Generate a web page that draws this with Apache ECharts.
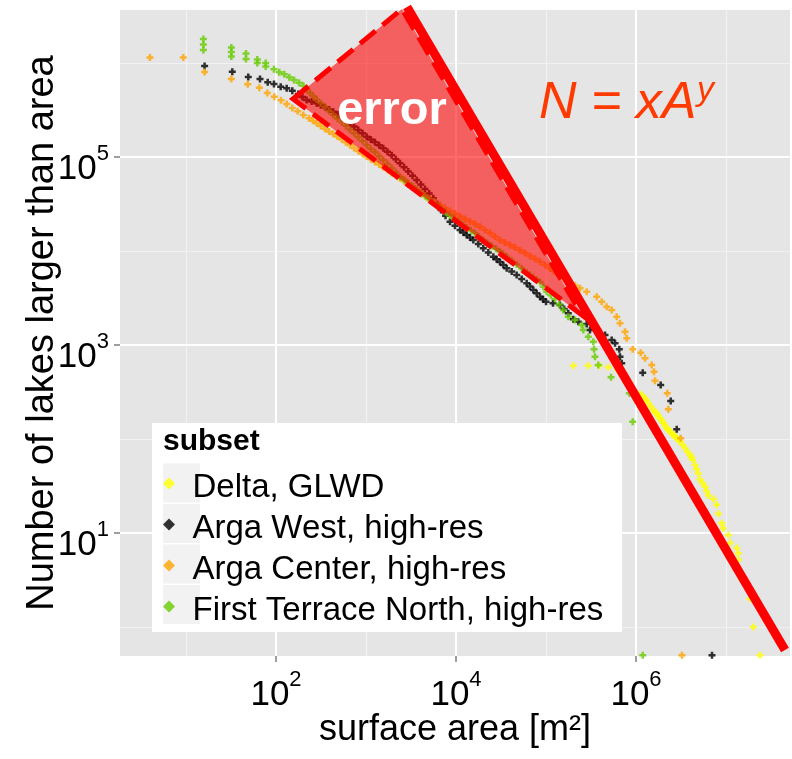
<!DOCTYPE html>
<html>
<head>
<meta charset="utf-8">
<script src="https://cdn.jsdelivr.net/npm/echarts@6/dist/echarts.min.js"></script>
<style>html,body{margin:0;padding:0;background:#fff}#c{width:792px;height:759px}</style>
</head>
<body>
<div id="c"></div>
<script>
// ---- data ----
const seriesNames = ['Delta, GLWD', 'Arga West, high-res', 'Arga Center, high-res', 'First Terrace North, high-res'];
const seriesColors = ['#FFFF00', '#000000', '#FFA500', '#66CC00'];

const deltaArea = [2.01e5, 2.95e5, 3.91e5, 4.92e5, 6.20e5, 1.108e6, 1.181e6, 1.259e6, 1.313e6, 1.37e6, 1.461e6, 1.557e6, 1.627e6, 1.70e6, 1.773e6, 1.848e6, 1.927e6, 2.01e6, 2.098e6, 2.19e6, 2.286e6, 2.387e6, 2.49e6, 2.597e6, 2.712e6, 2.833e6, 2.954e6, 3.08e6, 3.283e6, 3.50e6, 3.735e6, 3.98e6, 4.11e6, 4.245e6, 4.525e6, 4.718e6, 4.92e6, 5.14e6, 5.48e6, 5.85e6, 6.10e6, 6.36e6, 7.23e6, 7.88e6, 8.21e6, 8.96e6, 9.33e6, 1.061e7, 1.108e7, 1.315e7, 1.37e7, 1.37e7, 1.494e7, 1.848e7, 2.01e7, 2.387e7];
const deltaCount = [602, 602, 602, 579, 542, 301, 287, 273, 256, 240, 221, 203, 194, 185, 175, 166, 157, 148, 139, 130, 125, 120, 115, 110, 106, 102, 98, 94, 87, 80, 73, 68, 64, 60, 53, 47.7, 43, 37, 34, 31, 27.8, 25, 23, 20, 16, 12.7, 11.2, 9.5, 7.8, 6.9, 6.1, 5.2, 3.2, 2.0, 1.0, 0.5];

const argaWestArea = [16.1, 32.7, 49.2, 66.4, 80.9, 95.0, 112.8, 131.5, 151.7, 177, 196.9, 219, 249, 283, 314.7, 350, 389.3, 433, 482.2, 537, 597.1, 664, 738.3, 821, 914.2, 1018, 1132, 1259, 1400, 1557, 1733, 1930, 2146, 2387, 2654, 2951, 3286, 3659, 4069, 4525, 5032, 5596, 6175, 6813, 7644, 8577, 9749, 1.108e4, 1.207e4, 1.315e4, 1.431e4, 1.557e4, 1.769e4, 2.01e4, 2.285e4, 2.597e4, 2.828e4, 3.08e4, 3.358e4, 3.66e4, 4.156e4, 4.72e4, 5.366e4, 6.10e4, 6.641e4, 7.23e4, 7.876e4, 8.58e4, 9.263e4, 1.0e5, 1.196e5, 1.43e5, 1.591e5, 1.769e5, 2.01e5, 2.285e5, 2.833e5, 3.08e5, 3.78e5, 4.525e5, 5.37e5, 5.85e5, 6.52e5, 6.64e5, 6.94e5, 1.187e6, 1.881e6, 2.43e6, 2.833e6, 6.99e6];
const argaWestCount = [9.29e5, 8.08e5, 7.10e5, 6.76e5, 6.23e5, 5.98e5, 5.60e5, 5.38e5, 5.07e5, 4.68e5, 4.348e5, 4.04e5, 3.882e5, 3.73e5, 3.551e5, 3.38e5, 3.20e5, 3.03e5, 2.828e5, 2.64e5, 2.453e5, 2.28e5, 2.103e5, 1.94e5, 1.784e5, 1.64e5, 1.531e5, 1.43e5, 1.332e5, 1.24e5, 1.136e5, 1.04e5, 9.441e4, 8.57e4, 7.751e4, 7.01e4, 6.316e4, 5.69e4, 5.099e4, 4.57e4, 4.079e4, 3.64e4, 3.152e4, 2.73e4, 2.366e4, 2.05e4, 1.85e4, 1.67e4, 1.572e4, 1.48e4, 1.392e4, 1.31e4, 1.184e4, 1.07e4, 9648, 8700, 8152, 7638, 7071, 6546, 6031, 5556, 5018, 4533, 4176, 3847, 3544, 3265, 3071, 2888, 2774, 2665, 2407, 2174, 1877, 1770, 1673, 1444, 1358, 1278, 1130, 1042, 900, 751, 639, 507, 375, 254, 127, 0.5];

const argaCenterArea = [3.98, 9.33, 16.1, 31.9, 48.5, 65.2, 80.1, 95.7, 113.6, 131.5, 151.7, 174.2, 201, 232.6, 256.7, 283.3, 314.9, 350, 389.3, 433, 482.2, 537, 597.1, 664, 738.3, 821, 914.2, 1018, 1132, 1259, 1400, 1557, 1733, 1930, 2146, 2387, 2654, 2951, 3286, 3659, 4228, 4886, 5696, 6640, 7547, 8577, 9749, 1.108e4, 1.259e4, 1.43e4, 1.626e4, 1.848e4, 2.10e4, 2.387e4, 2.711e4, 3.08e4, 3.501e4, 3.98e4, 4.523e4, 5.14e4, 5.842e4, 6.64e4, 7.548e4, 8.58e4, 9.75e4, 1.108e5, 1.212e5, 1.325e5, 1.436e5, 1.557e5, 1.696e5, 1.848e5, 2.10e5, 2.387e5, 2.833e5, 3.66e5, 4.16e5, 4.72e5, 5.37e5, 6.10e5, 6.64e5, 7.55e5, 7.88e5, 9.19e5, 1.128e6, 1.259e6, 1.494e6, 1.585e6, 1.626e6, 2.227e6, 2.285e6, 3.14e6, 3.24e6];
const argaCenterCount = [1.14e6, 1.14e6, 8.02e5, 6.76e5, 5.93e5, 5.46e5, 4.80e5, 4.38e5, 4.01e5, 3.66e5, 3.32e5, 3.06e5, 2.80e5, 2.58e5, 2.425e5, 2.28e5, 2.13e5, 1.99e5, 1.871e5, 1.76e5, 1.646e5, 1.54e5, 1.437e5, 1.34e5, 1.247e5, 1.16e5, 1.082e5, 1.01e5, 9.454e4, 8.85e4, 8.292e4, 7.77e4, 7.247e4, 6.76e4, 6.331e4, 5.93e4, 5.532e4, 5.16e4, 4.797e4, 4.46e4, 4.04e4, 3.66e4, 3.363e4, 3.09e4, 2.867e4, 2.66e4, 2.484e4, 2.32e4, 2.186e4, 2.06e4, 1.931e4, 1.81e4, 1.675e4, 1.55e4, 1.425e4, 1.31e4, 1.233e4, 1.16e4, 1.088e4, 1.02e4, 9501, 8850, 8252, 7695, 7097, 6546, 6142, 5763, 5434, 5124, 4837, 4566, 4280, 4012, 3690, 3265, 2888, 2555, 2357, 2000, 1702, 1385, 1178, 900, 828, 722, 613, 520, 417, 306, 207, 102, 0.5];

const terraceArea = [15.6, 15.6, 15.6, 31.9, 31.9, 31.9, 46.4, 46.4, 62.0, 62.0, 76.8, 76.8, 95.0, 108.8, 123.7, 140.6, 158.5, 180.1, 201, 219, 238.6, 260, 283.3, 314.9, 350, 389.3, 433, 482.2, 537, 597.1, 664, 738.3, 821, 914.2, 1018, 1132, 1259, 1400, 1557, 1733, 1930, 2146, 2387, 2654, 2951, 3286, 3659, 4069, 4525, 5032, 5596, 6231, 6937, 7714, 8577, 9539, 1.061e4, 1.181e4, 1.315e4, 1.462e4, 1.626e4, 1.808e4, 2.01e4, 2.239e4, 2.493e4, 2.771e4, 3.08e4, 3.358e4, 3.66e4, 4.156e4, 4.72e4, 5.366e4, 6.10e4, 6.641e4, 7.23e4, 7.876e4, 8.58e4, 9.346e4, 1.018e5, 1.132e5, 1.259e5, 1.40e5, 1.557e5, 1.769e5, 2.10e5, 2.493e5, 2.597e5, 2.95e5, 3.354e5, 3.415e5, 3.50e5, 3.81e5, 5.28e5, 8.43e5, 9.19e5, 1.187e6];
const terraceCount = [1.80e6, 1.57e6, 1.375e6, 1.46e6, 1.31e6, 1.17e6, 1.26e6, 1.10e6, 1.09e6, 1.0e6, 1.0e6, 9.18e5, 8.57e5, 7.96e5, 7.58e5, 7.05e5, 6.59e5, 6.17e5, 5.73e5, 5.244e5, 4.80e5, 4.431e5, 4.09e5, 3.729e5, 3.40e5, 3.085e5, 2.80e5, 2.571e5, 2.36e5, 2.151e5, 1.96e5, 1.787e5, 1.63e5, 1.478e5, 1.34e5, 1.225e5, 1.12e5, 1.02e5, 9.29e4, 8.425e4, 7.64e4, 6.866e4, 6.17e4, 5.713e4, 5.29e4, 4.884e4, 4.51e4, 4.167e4, 3.85e4, 3.554e4, 3.28e4, 3.031e4, 2.80e4, 2.587e4, 2.39e4, 2.219e4, 2.06e4, 1.914e4, 1.778e4, 1.655e4, 1.54e4, 1.42e4, 1.31e4, 1.217e4, 1.13e4, 1.0565e4, 9878, 9270, 8700, 7906, 7185, 6514, 5906, 5555, 5225, 4945, 4680, 4156, 3690, 3375, 3086, 2697, 2357, 2000, 1845, 1632, 1444, 1226, 1084, 900, 751, 613, 453, 306, 152, 0.5];

// power-law fit line and "error" wedge (annotation, data coordinates)
const fitArea = [2856, 4.52e7];
const fitCount = [3.94e6, 0.569];
const errorArea = [154.5, 2512, 2.51e5];
const errorCount = [4.14e5, 3.75e6, 2085];

// axes
const xRange = [1.848, 5.14e7];
const yRange = [0.491, 3.66e6];
const xTickValues = [100, 1e4, 1e6];
const yTickValues = [10, 1e3, 1e5];

// ---- chart ----
const FONT = '"Liberation Sans", Arial, sans-serif';
const PLUS = 'path://M2.25,0h2.5v2.25h2.25v2.5h-2.25v2.25h-2.5v-2.25h-2.25v-2.5h2.25z';
const DIAMOND = 'path://M5,0L10,5L5,10L0,5Z';
function pairs(a, b) { return a.map((v, i) => [v, b[i]]); }
function supLabel(v) { const e = Math.round(Math.log10(v)); return '{b|10}{s|' + e + '}'; }
const richTick = {
  b: { fontSize: 35, fontFamily: FONT, color: '#000', lineHeight: 44, verticalAlign: 'bottom' },
  s: { fontSize: 22, fontFamily: FONT, color: '#000', lineHeight: 16, verticalAlign: 'top' }
};

const seriesData = [
  pairs(deltaArea, deltaCount),
  pairs(argaWestArea, argaWestCount),
  pairs(argaCenterArea, argaCenterCount),
  pairs(terraceArea, terraceCount)
];

const scatterSeries = seriesNames.map((name, i) => ({
  type: 'scatter', name: name, xAxisIndex: 0, yAxisIndex: 0,
  data: seriesData[i], symbol: PLUS, symbolSize: 7,
  itemStyle: { color: seriesColors[i] }, z: 2 + i * 0.01, silent: true
}));

// major grid lines on first series
scatterSeries[0].markLine = {
  silent: true, z: 1, symbol: ['none', 'none'], label: { show: false },
  lineStyle: { color: '#FFFFFF', width: 2, type: 'solid' },
  emphasis: { disabled: true },
  data: xTickValues.map(v => ({ xAxis: v })).concat(yTickValues.map(v => ({ yAxis: v })))
};

const chart = echarts.init(document.getElementById('c'), null, { renderer: 'canvas' });
chart.setOption({
  animation: false,
  grid: { left: 120, right: 2, top: 10, bottom: 103, show: true, backgroundColor: '#E5E5E5', borderWidth: 0 },
  xAxis: [{
    type: 'log', logBase: 10, min: xRange[0], max: xRange[1],
    axisLine: { show: false },
    axisTick: { show: true, customValues: xTickValues, length: 6, lineStyle: { color: '#7F7F7F', width: 1.5 } },
    axisLabel: { customValues: xTickValues, formatter: supLabel, rich: richTick, margin: 13 },
    splitLine: { show: false },
    name: 'surface area [m²]', nameLocation: 'middle', nameGap: 56, nameMoveOverlap: false,
    nameTextStyle: { fontSize: 36, fontFamily: FONT, color: '#000' }
  }, {
    type: 'log', logBase: 10, min: xRange[0], max: xRange[1], position: 'bottom',
    axisLine: { show: false }, axisTick: { show: false }, axisLabel: { show: false },
    splitLine: { show: true, showMinLine: false, showMaxLine: false, lineStyle: { color: '#F2F2F2', width: 1.2 } }
  }],
  yAxis: [{
    type: 'log', logBase: 10, min: yRange[0], max: yRange[1],
    axisLine: { show: false },
    axisTick: { show: true, customValues: yTickValues, length: 6, lineStyle: { color: '#7F7F7F', width: 1.5 } },
    axisLabel: { customValues: yTickValues, formatter: supLabel, rich: richTick, margin: 11, padding: [16, 0, 0, 0] },
    splitLine: { show: false },
    name: 'Number of lakes larger than area', nameLocation: 'middle', nameGap: 58, nameMoveOverlap: false,
    nameTextStyle: { fontSize: 38, fontFamily: FONT, color: '#000' }
  }, {
    type: 'log', logBase: 10, min: yRange[0], max: yRange[1], position: 'left',
    axisLine: { show: false }, axisTick: { show: false }, axisLabel: { show: false },
    splitLine: { show: true, showMinLine: false, showMaxLine: false, lineStyle: { color: '#F2F2F2', width: 1.2 } }
  }],
  legend: {
    orient: 'vertical', left: 163, top: 463, padding: 0, itemGap: 0,
    itemWidth: 37, itemHeight: 12, icon: DIAMOND, symbolKeepAspect: true,
    selectedMode: false, z: 6, data: seriesNames,
    formatter: function (name) { return '{t|' + name + '}'; },
    textStyle: {
      fontSize: 33, fontFamily: FONT, color: '#000',
      rich: { t: { fontSize: 33, fontFamily: FONT, color: '#000', lineHeight: 32.5, padding: [8, 0, 0, 0] } }
    }
  },
  graphic: [
    { type: 'rect', z: 3, shape: { x: 152, y: 423, width: 470, height: 209 }, style: { fill: '#FFFFFF' } },
    { type: 'rect', z: 3, shape: { x: 163, y: 463.5, width: 37, height: 39 }, style: { fill: '#F2F2F2' } },
    { type: 'rect', z: 3, shape: { x: 163, y: 504, width: 37, height: 39 }, style: { fill: '#F2F2F2' } },
    { type: 'rect', z: 3, shape: { x: 163, y: 544.5, width: 37, height: 39 }, style: { fill: '#F2F2F2' } },
    { type: 'rect', z: 3, shape: { x: 163, y: 585, width: 37, height: 39 }, style: { fill: '#F2F2F2' } },
    { type: 'text', z: 7, x: 163, y: 442, style: { text: 'subset', fontSize: 30, fontWeight: 'bold', fontFamily: FONT, fill: '#000', align: 'left', verticalAlign: 'middle' } },
    { type: 'text', z: 10, x: 392, y: 111, style: { text: 'error', fontSize: 47, fontWeight: 'bold', fontFamily: FONT, fill: '#FFFFFF', align: 'center', verticalAlign: 'middle' } },
    { type: 'text', z: 10, x: 539, y: 104, style: { text: 'N = xA', fontSize: 52, fontStyle: 'italic', fontFamily: FONT, fill: '#FF3A00', align: 'left', verticalAlign: 'middle' } },
    { type: 'text', z: 10, x: 697, y: 91, style: { text: 'y', fontSize: 34, fontStyle: 'italic', fontFamily: FONT, fill: '#FF3A00', align: 'left', verticalAlign: 'middle' } }
  ],
  series: scatterSeries.concat([
    {
      type: 'custom', name: 'error wedge', xAxisIndex: 0, yAxisIndex: 0, z: 5, silent: true, clip: false,
      data: [[errorArea[0], errorCount[0], errorArea[1], errorCount[1], errorArea[2], errorCount[2]]],
      encode: { x: [0, 2, 4], y: [1, 3, 5] },
      renderItem: function (params, api) {
        const pts = [0, 1, 2].map(k => api.coord([api.value(2 * k), api.value(2 * k + 1)]));
        return {
          type: 'polygon', shape: { points: pts },
          style: { fill: 'rgba(255,0,0,0.58)', stroke: '#FF0000', lineWidth: 5, lineDash: [20, 9] }
        };
      }
    },
    {
      type: 'line', name: 'fit', xAxisIndex: 0, yAxisIndex: 0, z: 6, silent: true, clip: false,
      data: pairs(fitArea, fitCount), symbol: 'none',
      lineStyle: { color: '#FF0000', width: 9 }
    }
  ])
});
</script>
</body>
</html>
